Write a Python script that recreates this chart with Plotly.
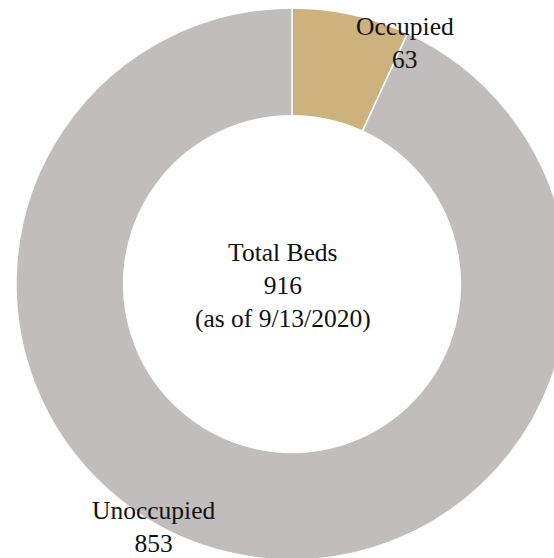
import plotly.graph_objects as go

# Bed occupancy snapshot
categories = ["Occupied", "Unoccupied"]
beds = [63, 853]
as_of = "9/13/2020"
slice_colors = ["#cdb27e", "#c1bdbd"]

W, H = 583, 568
FONT = "Liberation Serif, Times New Roman, serif"


def px(x, y):
    """Convert pixel position (from top-left) to paper coordinates."""
    return x / W, 1 - y / H


cx, cy, r_out = 292, 284, 276

fig = go.Figure(
    go.Pie(
        labels=categories,
        values=beds,
        hole=0.61,
        sort=False,
        direction="clockwise",
        rotation=0,
        marker=dict(colors=slice_colors, line=dict(color="white", width=1.5)),
        textinfo="none",
        hoverinfo="label+value",
        domain=dict(
            x=[(cx - r_out) / W, (cx + r_out) / W],
            y=[(H - cy - r_out) / H, (H - cy + r_out) / H],
        ),
        showlegend=False,
    )
)

label_pos = {"Occupied": (405, 43), "Unoccupied": (153, 527)}
annotations = []
for name, val in zip(categories, beds):
    x, y = px(*label_pos[name])
    annotations.append(
        dict(
            x=x, y=y, xref="paper", yref="paper",
            xanchor="center", yanchor="middle",
            text=f"{name}<br>{val}",
            showarrow=False,
            font=dict(family=FONT, size=25.5, color="#111111"),
            align="center",
            borderpad=0,
        )
    )

x, y = px(283, 285)
annotations.append(
    dict(
        x=x, y=y, xref="paper", yref="paper",
        xanchor="center", yanchor="middle",
        text=f"Total Beds<br>{sum(beds)}<br>(as of {as_of})",
        showarrow=False,
        font=dict(family=FONT, size=25.5, color="#111111"),
        align="center",
    )
)

fig.update_layout(
    width=W,
    height=H,
    margin=dict(l=0, r=0, t=0, b=0),
    paper_bgcolor="white",
    plot_bgcolor="white",
    annotations=annotations,
)

fig.write_html("out.html")
